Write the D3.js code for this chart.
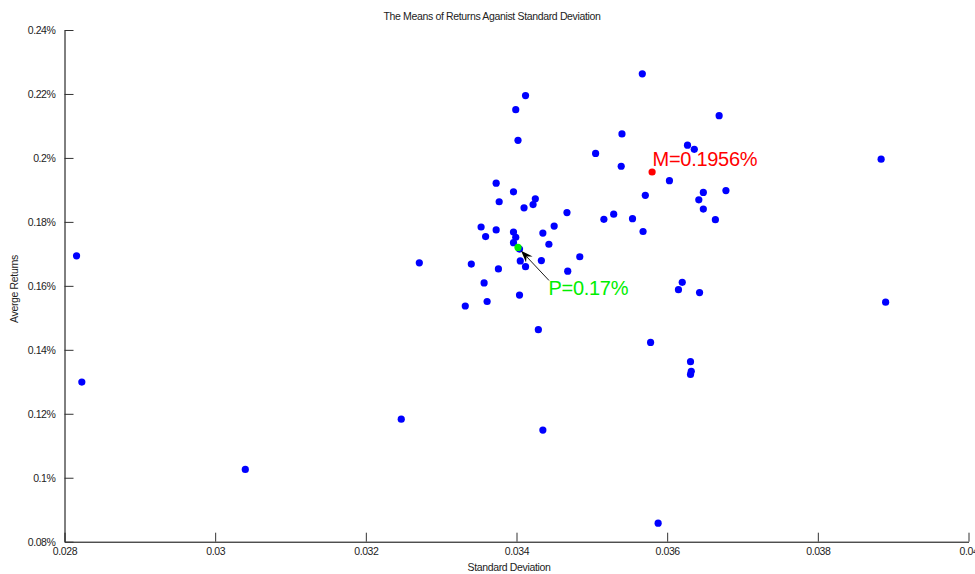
<!DOCTYPE html>
<html>
<head>
<meta charset="utf-8">
<script src="https://cdn.jsdelivr.net/npm/d3@7"></script>
<style>
  html, body { margin: 0; padding: 0; background: #fff; }
  svg { display: block; font-family: "Liberation Sans", Arial, sans-serif; }
</style>
</head>
<body>
<svg id="chart" width="975" height="574"></svg>
<script>
// Standard deviation of returns, one entry per asset
const stdDev = [
  0.02816, 0.02823, 0.03040, 0.03247, 0.03271, 0.03332, 0.03340, 0.03353,
  0.03357, 0.03359, 0.03361, 0.03373, 0.03373, 0.03376, 0.03377, 0.03396,
  0.03396, 0.03399, 0.03396, 0.03399, 0.03402, 0.03404, 0.03404, 0.03405,
  0.03410, 0.03412, 0.03412, 0.03422, 0.03425, 0.03429, 0.03433, 0.03435,
  0.03435, 0.03443, 0.03450, 0.03467, 0.03468, 0.03484, 0.03505, 0.03516,
  0.03529, 0.03539, 0.03540, 0.03554, 0.03567, 0.03568, 0.03571, 0.03578,
  0.03588, 0.03603, 0.03615, 0.03620, 0.03627, 0.03631, 0.03632, 0.03631,
  0.03636, 0.03642, 0.03643, 0.03648, 0.03648, 0.03664, 0.03669, 0.03678,
  0.03884, 0.03890
];

// Mean return (in %) for the same assets
const avgReturn = [
  0.1694, 0.1299, 0.1026, 0.1183, 0.1672, 0.1537, 0.1668, 0.1784,
  0.1609, 0.1754, 0.1551, 0.1775, 0.1921, 0.1653, 0.1863, 0.1894,
  0.1768, 0.1752, 0.1735, 0.2151, 0.2055, 0.1715, 0.1571, 0.1678,
  0.1844, 0.2195, 0.1660, 0.1854, 0.1872, 0.1463, 0.1679, 0.1149,
  0.1765, 0.1730, 0.1787, 0.1829, 0.1646, 0.1691, 0.2014, 0.1808,
  0.1824, 0.1974, 0.2075, 0.1810, 0.2263, 0.1770, 0.1883, 0.1423,
  0.0858, 0.1929, 0.1588, 0.1611, 0.2040, 0.1363, 0.1333, 0.1323,
  0.2027, 0.1869, 0.1579, 0.1892, 0.1840, 0.1807, 0.2132, 0.1898,
  0.1996, 0.1549
];

// Highlighted portfolios: market (M) and chosen portfolio (P)
const markNames   = ["M", "P"];
const markStdDev  = [0.03580, 0.03402];
const markReturn  = [0.1956, 0.1720];
const markDigits  = [4, 2];
const markColors  = ["#ff0000", "#00ee00"];

// Axis ticks
const xTicks      = [0.028, 0.030, 0.032, 0.034, 0.036, 0.038, 0.040];
const xTickLabels = ["0.028", "0.03", "0.032", "0.034", "0.036", "0.038", "0.04"];
const yTicks      = [0.08, 0.10, 0.12, 0.14, 0.16, 0.18, 0.20, 0.22, 0.24];
const yTickLabels = ["0.08%", "0.1%", "0.12%", "0.14%", "0.16%", "0.18%", "0.2%", "0.22%", "0.24%"];

const svg = d3.select("#chart");
const plot = { left: 64.5, right: 968.5, top: 30, bottom: 541.7 };

const x = d3.scaleLinear().domain([0.028, 0.040]).range([plot.left, plot.right]);
const y = d3.scaleLinear().domain([0.08, 0.24]).range([plot.bottom, plot.top]);

// Title
svg.append("text")
  .attr("x", 492).attr("y", 20)
  .attr("text-anchor", "middle")
  .attr("font-size", 10.5)
  .attr("letter-spacing", "-0.35px")
  .attr("fill", "#222")
  .text("The Means of Returns Aganist Standard Deviation");

// X axis (ticks point into the plot)
const xAxis = d3.axisBottom(x)
  .tickValues(xTicks)
  .tickFormat((d, i) => xTickLabels[i])
  .tickSizeInner(-9).tickSizeOuter(0).tickPadding(6);
const gx = svg.append("g").attr("transform", `translate(0,${plot.bottom})`).call(xAxis);

// Y axis
const yAxis = d3.axisLeft(y)
  .tickValues(yTicks)
  .tickFormat((d, i) => yTickLabels[i])
  .tickSizeInner(-9).tickSizeOuter(0).tickPadding(9);
const gy = svg.append("g").attr("transform", `translate(${plot.left},0)`).call(yAxis);

[gx, gy].forEach(g => {
  g.select(".domain").attr("stroke", "#000").attr("stroke-width", 1);
  g.selectAll(".tick line").attr("stroke", "#333");
  g.selectAll(".tick text")
    .attr("fill", "#222")
    .attr("font-size", 10.5)
    .attr("letter-spacing", "-0.4px")
    .attr("font-family", "'Liberation Sans', Arial, sans-serif");
});

// Axis titles
svg.append("text")
  .attr("x", 509).attr("y", 571)
  .attr("text-anchor", "middle")
  .attr("font-size", 10.5)
  .attr("letter-spacing", "-0.35px")
  .attr("fill", "#222")
  .text("Standard Deviation");

svg.append("text")
  .attr("transform", "translate(18,289) rotate(-90)")
  .attr("text-anchor", "middle")
  .attr("font-size", 10.5)
  .attr("letter-spacing", "-0.35px")
  .attr("fill", "#222")
  .text("Averge Returns");

// Asset scatter
svg.append("g")
  .selectAll("circle")
  .data(stdDev.map((sd, i) => ({ sd, ret: avgReturn[i] })))
  .join("circle")
  .attr("cx", d => x(d.sd))
  .attr("cy", d => y(d.ret))
  .attr("r", 3.6)
  .attr("fill", "#0000ff");

// Highlighted portfolios
const marks = markNames.map((name, i) => ({
  name, sd: markStdDev[i], ret: markReturn[i], digits: markDigits[i], color: markColors[i]
}));

svg.append("g")
  .selectAll("circle")
  .data(marks)
  .join("circle")
  .attr("cx", d => x(d.sd))
  .attr("cy", d => y(d.ret))
  .attr("r", 3.6)
  .attr("fill", d => d.color);

// M label sits just above-right of its point
const m = marks[0];
svg.append("text")
  .attr("x", x(m.sd) + 0.5)
  .attr("y", y(m.ret) - 5.5)
  .attr("font-size", 20)
  .attr("letter-spacing", "-0.3px")
  .attr("fill", m.color)
  .text(`${m.name}=${m.ret.toFixed(m.digits)}%`);

// P label with an arrow pointing back to its point
const p = marks[1];
const px = x(p.sd), py = y(p.ret);
const tailX = px + 31, tailY = py + 33;
const ang = Math.atan2(py - tailY, px - tailX);
const tipX = px - 4.5 * Math.cos(ang), tipY = py - 4.5 * Math.sin(ang);

svg.append("line")
  .attr("x1", tailX).attr("y1", tailY)
  .attr("x2", tipX - 8 * Math.cos(ang)).attr("y2", tipY - 8 * Math.sin(ang))
  .attr("stroke", "#000").attr("stroke-width", 0.9);

const head = [[0, 0], [-12, -4.5], [-8, 0], [-12, 4.5]].map(([u, v]) => [
  tipX + u * Math.cos(ang) - v * Math.sin(ang),
  tipY + u * Math.sin(ang) + v * Math.cos(ang)
]);
svg.append("path")
  .attr("d", "M" + head.map(pt => pt.join(",")).join("L") + "Z")
  .attr("fill", "#000");

svg.append("text")
  .attr("x", px + 30.5)
  .attr("y", py + 47.7)
  .attr("font-size", 20)
  .attr("letter-spacing", "-0.3px")
  .attr("fill", p.color)
  .text(`${p.name}=${p.ret.toFixed(p.digits)}%`);
</script>
</body>
</html>
